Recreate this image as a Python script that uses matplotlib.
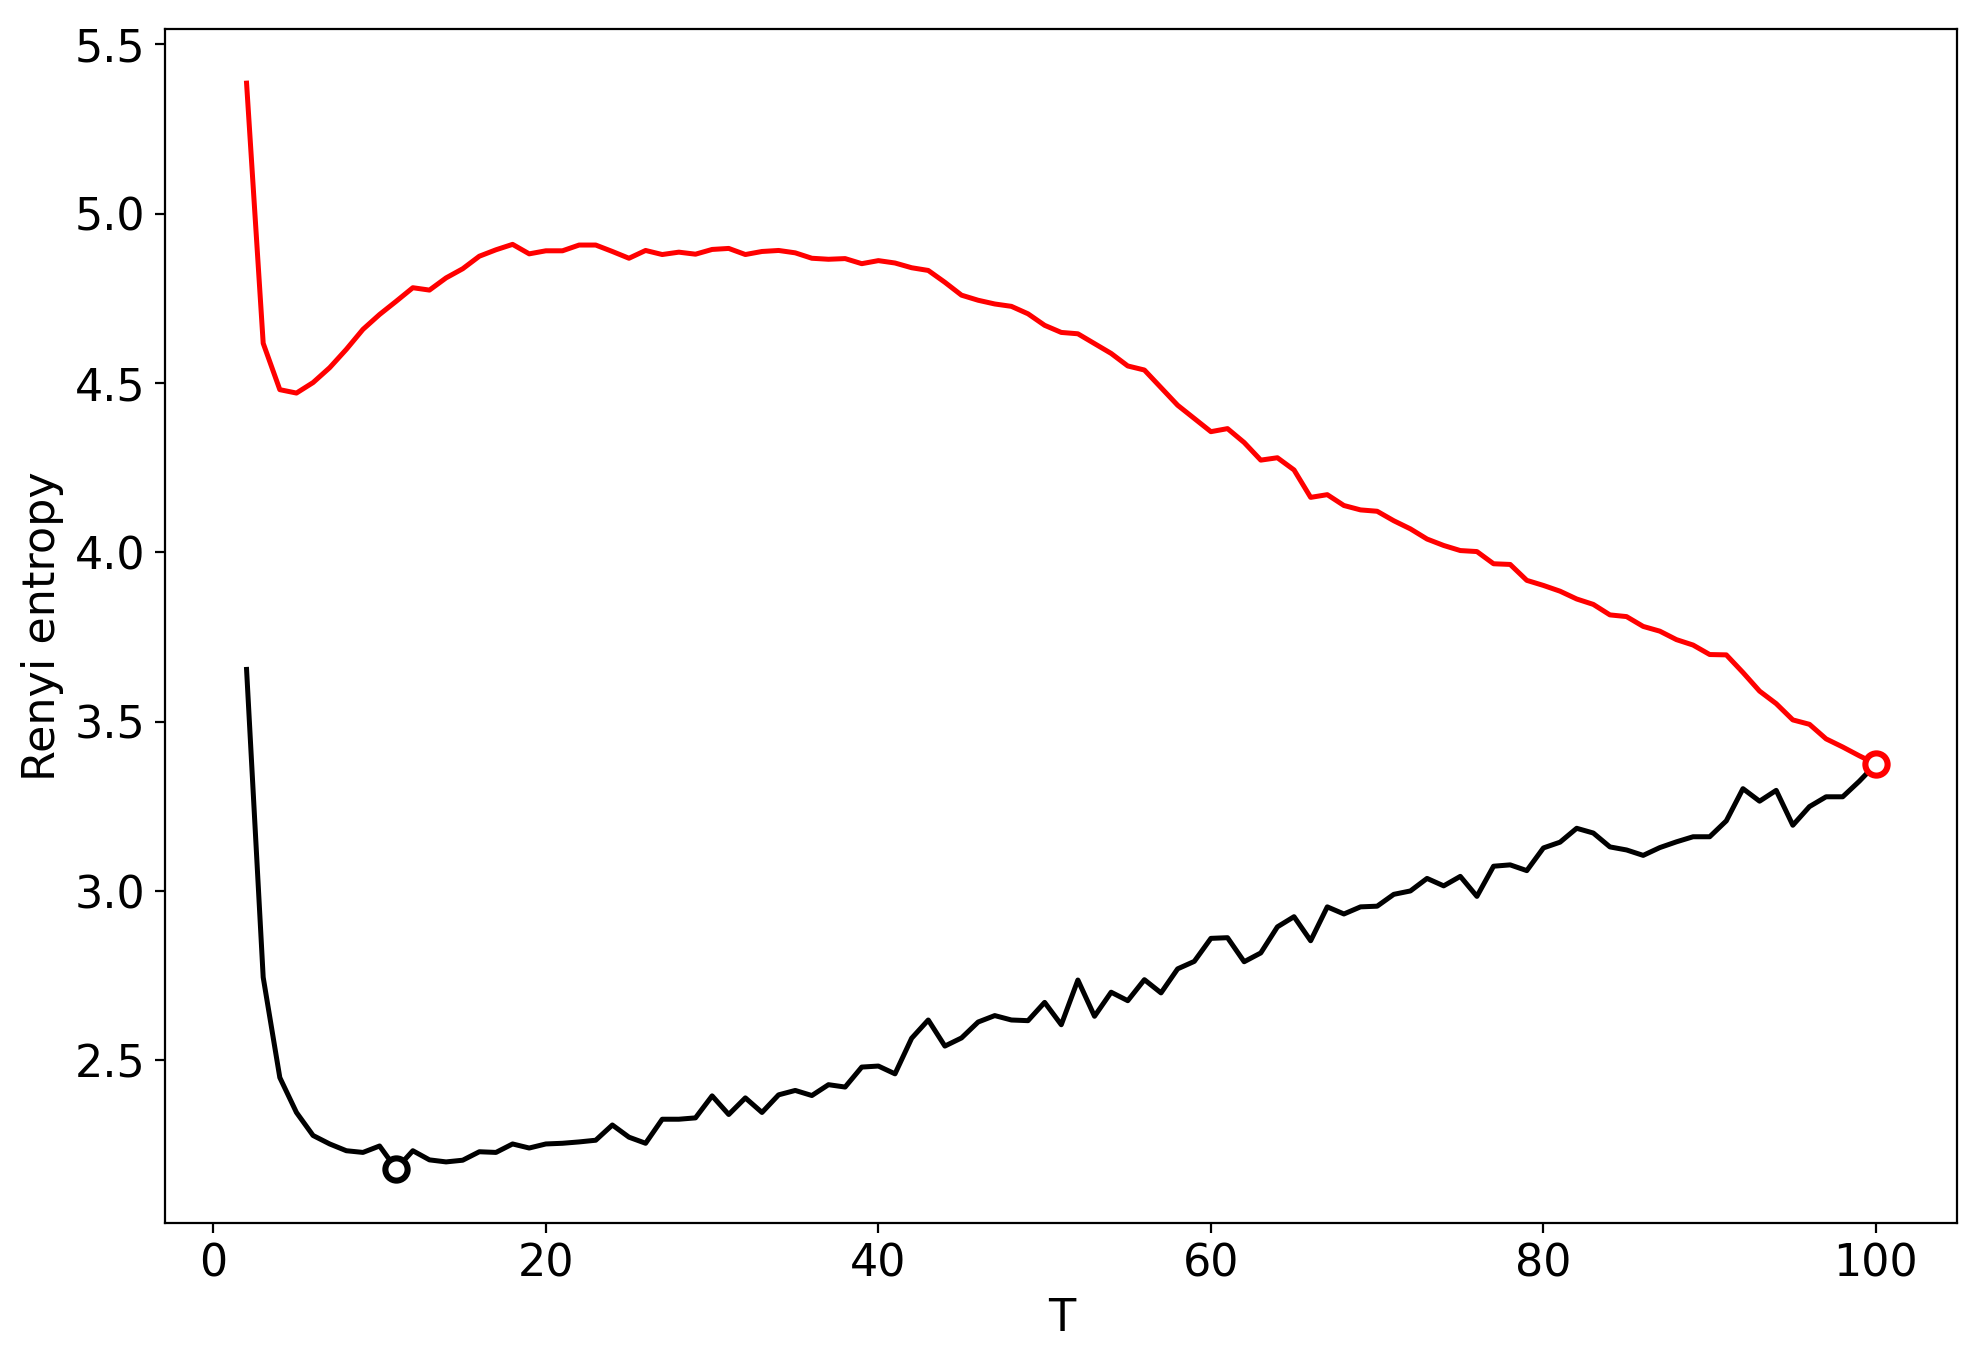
import numpy as np
from matplotlib import pyplot as plt

# T values and the two entropy curves
T = list(range(2, 101))

renyi_black = [
    3.654, 2.745, 2.449, 2.346, 2.278, 2.253, 2.233, 2.228, 2.247, 2.179,
    2.233, 2.206, 2.200, 2.205, 2.230, 2.228, 2.253, 2.241, 2.253, 2.255,
    2.259, 2.264, 2.309, 2.273, 2.255, 2.326, 2.326, 2.330, 2.395, 2.340,
    2.389, 2.346, 2.398, 2.411, 2.396, 2.428, 2.421, 2.480, 2.483, 2.460,
    2.565, 2.619, 2.542, 2.566, 2.613, 2.632, 2.619, 2.617, 2.671, 2.605,
    2.737, 2.630, 2.701, 2.676, 2.738, 2.699, 2.770, 2.792, 2.860, 2.862,
    2.791, 2.817, 2.894, 2.924, 2.853, 2.953, 2.932, 2.953, 2.955, 2.990,
    3.000, 3.037, 3.015, 3.043, 2.984, 3.073, 3.077, 3.060, 3.127, 3.144,
    3.185, 3.171, 3.130, 3.121, 3.105, 3.128, 3.145, 3.160, 3.160, 3.207,
    3.302, 3.265, 3.297, 3.194, 3.249, 3.278, 3.278, 3.324, 3.375,
]

renyi_red = [
    5.385, 4.617, 4.480, 4.470, 4.501, 4.545, 4.599, 4.658, 4.702, 4.741,
    4.781, 4.774, 4.810, 4.837, 4.874, 4.893, 4.909, 4.881, 4.890, 4.890,
    4.907, 4.907, 4.888, 4.868, 4.891, 4.879, 4.886, 4.880, 4.894, 4.897,
    4.879, 4.888, 4.891, 4.884, 4.868, 4.865, 4.867, 4.852, 4.861, 4.854,
    4.840, 4.832, 4.797, 4.759, 4.744, 4.733, 4.726, 4.704, 4.670, 4.649,
    4.645, 4.616, 4.587, 4.550, 4.538, 4.486, 4.434, 4.395, 4.356, 4.365,
    4.324, 4.272, 4.279, 4.243, 4.162, 4.170, 4.138, 4.125, 4.121, 4.093,
    4.069, 4.039, 4.020, 4.005, 4.002, 3.966, 3.964, 3.917, 3.902, 3.885,
    3.862, 3.846, 3.815, 3.810, 3.781, 3.767, 3.742, 3.726, 3.698, 3.697,
    3.645, 3.590, 3.553, 3.505, 3.492, 3.449, 3.425, 3.399, 3.375,
]


def plot_entropy_curves():
    plt.rcParams['font.family'] = ['DejaVu Sans']
    plt.rcParams['font.size'] = 16

    fig = plt.figure(figsize=(1977.2 / 200, 1351.2 / 200), dpi=200)
    ax = fig.add_axes([0.0835, 0.0945, 0.9065, 0.884])

    ax.plot(T, renyi_black, color='k', linewidth=1.8)
    ax.plot(T, renyi_red, color='r', linewidth=1.8)

    # circle the minimum of each curve
    for values, color in ((renyi_black, 'k'), (renyi_red, 'r')):
        i = int(np.argmin(values))
        ax.plot(T[i], values[i], marker='o', markersize=8, markeredgewidth=2.2,
                markeredgecolor=color, markerfacecolor='white', linestyle='none')

    ax.set_xlabel("T")
    ax.set_ylabel("Renyi entropy")
    fig.savefig("out.png", dpi=200)


plot_entropy_curves()
